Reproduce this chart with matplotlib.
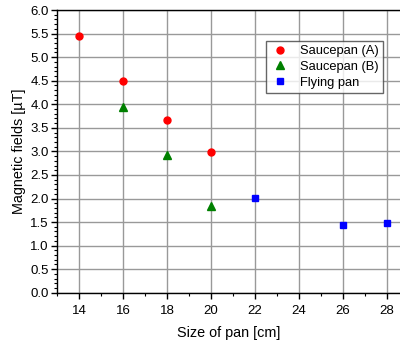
import matplotlib
matplotlib.use("Agg")
import matplotlib.pyplot as plt
from matplotlib.ticker import MultipleLocator

plt.rcParams['font.family'] = ['Liberation Sans', 'DejaVu Sans']

# data
size_a = [14, 16, 18, 20]
field_a = [5.45, 4.50, 3.66, 2.99]
size_b = [16, 18, 20]
field_b = [3.95, 2.92, 1.84]
size_fly = [22, 26, 28]
field_fly = [2.01, 1.43, 1.47]

fig = plt.figure(figsize=(4.0, 3.4), dpi=100)
ax = fig.add_axes([0.1425, 0.139, 0.8575, 0.8314])

ax.plot(size_a, field_a, 'o', color='red', markersize=5, label='Saucepan (A)')
ax.plot(size_b, field_b, '^', color='green', markersize=5.5, label='Saucepan (B)')
ax.plot(size_fly, field_fly, 's', color='blue', markersize=4.5, label='Flying pan')

ax.set_xlim(13, 28.6)
ax.set_ylim(0, 6.0)
ax.xaxis.set_major_locator(MultipleLocator(2))
ax.xaxis.set_minor_locator(MultipleLocator(1))
ax.yaxis.set_major_locator(MultipleLocator(0.5))
ax.yaxis.set_minor_locator(MultipleLocator(0.1))
ax.yaxis.set_major_formatter(plt.FormatStrFormatter('%.1f'))

ax.grid(True, which='major', color='#999999', linewidth=1.0)
ax.set_axisbelow(True)
ax.tick_params(which='major', length=4, width=1, labelsize=9.5, direction='out')
ax.tick_params(which='minor', length=2, width=0.8, direction='out')
ax.tick_params(axis='x', pad=5)
ax.tick_params(axis='y', pad=2)
ax.spines['right'].set_visible(False)
for s in ['left', 'bottom', 'top']:
    ax.spines[s].set_linewidth(1.0)

ax.set_xlabel('Size of pan [cm]', fontsize=10.4, labelpad=6)
ax.set_ylabel('Magnetic fields [\u00b5T]', fontsize=10.4, labelpad=3)

leg = ax.legend(loc='upper left', bbox_to_anchor=(0.608, 0.89), borderaxespad=0,
                fontsize=9.3, frameon=True, fancybox=False, edgecolor='#404040',
                borderpad=0.3, handletextpad=0.8, labelspacing=0.3,
                handlelength=1.6)
leg.get_frame().set_linewidth(1.0)

fig.savefig('out.png', dpi=100)
